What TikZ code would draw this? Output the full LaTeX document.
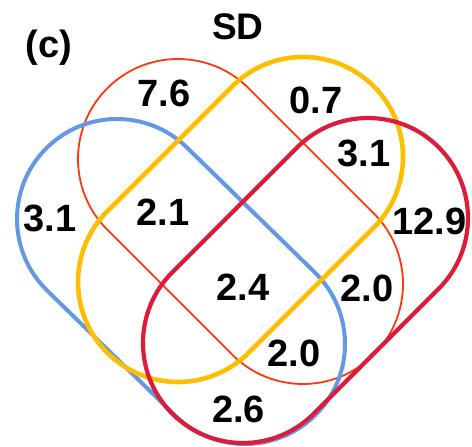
\documentclass[tikz,border=0pt]{standalone}
\usepackage{fontspec}
\setmainfont{Liberation Sans}
\usetikzlibrary{calc}
\definecolor{cblue}{RGB}{98,152,228}
\definecolor{cyellow}{RGB}{255,190,0}
\definecolor{cred}{RGB}{255,55,10}
\definecolor{ccrim}{RGB}{220,28,58}
\newcommand{\mystadium}[4]{%
  \draw[#4] let \p1=(#1), \p2=(#2), \n1={atan2(\y2-\y1,\x2-\x1)} in
    ($(#1)+(\n1+90:#3)$) -- ($(#2)+(\n1+90:#3)$)
    arc[start angle=\n1+90, delta angle=-180, radius=#3]
    -- ($(#1)+(\n1-90:#3)$)
    arc[start angle=\n1-90, delta angle=-180, radius=#3] -- cycle;}
\tikzset{
  num/.style={inner sep=0pt, font=\bfseries\fontsize{38}{40}\selectfont},
  redset/.style={draw=cred, line width=1.8pt},
  blueset/.style={draw=cblue, line width=4pt},
  yellowset/.style={draw=cyellow, line width=4.6pt},
  crimset/.style={draw=ccrim, line width=4.2pt}
}
\begin{document}
\begin{tikzpicture}[x=1pt,y=1pt]
\useasboundingbox (0,0) rectangle (472,447);
\coordinate (rA) at (178,288);
\coordinate (rB) at (303,163);
\coordinate (yA) at (303,290);
\coordinate (yB) at (178,165);
\coordinate (bA) at (117,228);
\coordinate (bB) at (245,103);
\coordinate (cA) at (368,229);
\coordinate (cB) at (243,104);
\mystadium{rA}{rB}{100pt}{redset}
\mystadium{bA}{bB}{100pt}{blueset}
\mystadium{yA}{yB}{100pt}{yellowset}
\mystadium{cA}{cB}{100pt}{crimset}
\node[num, font=\bfseries\fontsize{37}{40}\selectfont] (title) at (238,420.5) {SD};
\node[num, font=\bfseries\fontsize{38}{40}\selectfont] (lab) at (49,399.5) {(c)};
\node[num] (n1) at (164,353.5) {7.6};
\node[num] (n2) at (316,347) {0.7};
\node[num] (n3) at (364,294) {3.1};
\node[num] (n4) at (50,229) {3.1};
\node[num] (n5) at (163,235) {2.1};
\node[num] (n6) at (429.5,225.5) {12.9};
\node[num] (n7) at (243,160) {2.4};
\node[num] (n8) at (367,159) {2.0};
\node[num] (n9) at (294,94) {2.0};
\node[num] (n10) at (238.5,38) {2.6};
\end{tikzpicture}
\end{document}
